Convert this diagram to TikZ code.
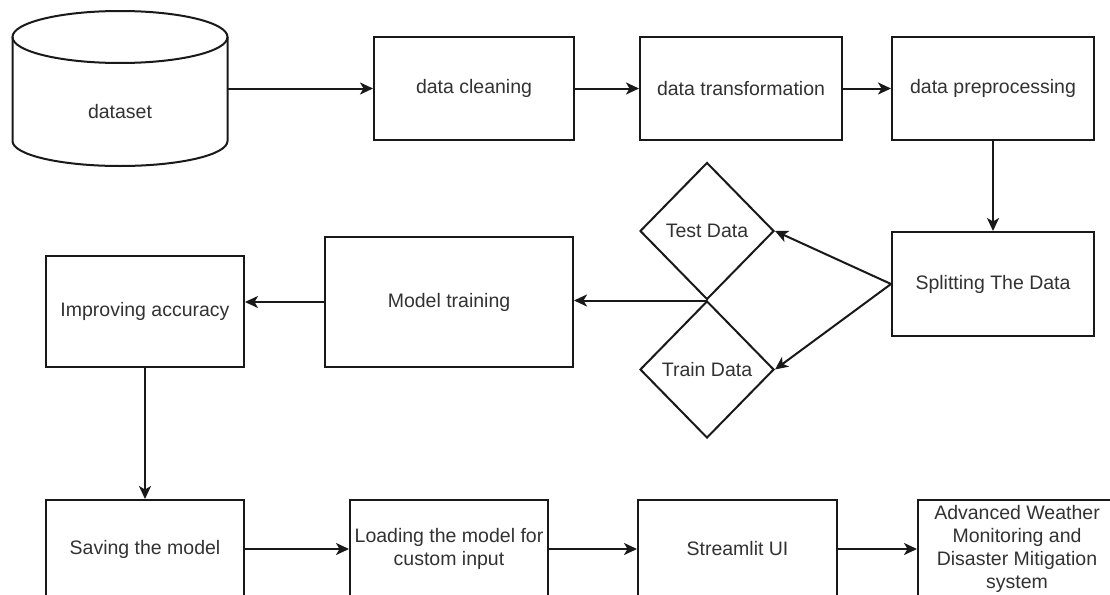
\documentclass[tikz,border=0pt]{standalone}
\usepackage{fontspec}
\setmainfont{Liberation Sans}
\usetikzlibrary{shapes.geometric,arrows.meta}
\definecolor{txtgray}{RGB}{50,50,50}
\definecolor{linegray}{RGB}{25,25,25}
\newcommand\dgfont{\fontsize{19.5}{23}\selectfont}
\tikzset{
  box/.style={draw=linegray, line width=2pt, rectangle, inner sep=0pt, align=center,
    font=\dgfont, text=txtgray},
  dia/.style={draw=linegray, line width=2pt, diamond, inner sep=0pt, align=center,
    font=\dgfont, text=txtgray, minimum width=134pt, minimum height=137pt},
  arr/.style={draw=linegray, line width=2pt, -{Stealth[length=13pt,width=12pt,inset=3.5pt]}},
  plain/.style={draw=linegray, line width=2pt}
}
\begin{document}
\begin{tikzpicture}[x=1pt,y=-1pt]
\useasboundingbox[fill=white] (0,0) rectangle (1110,594);
% dataset cylinder
\draw[plain] (12.5,37) -- (12.5,141) arc[start angle=180,end angle=360,x radius=107.5pt,y radius=25pt] -- (227.5,37);
\draw[plain] (120,37) ellipse[x radius=107.5pt,y radius=26pt];
\node[font=\dgfont, text=txtgray] (db) at (120,112) {dataset};
\coordinate (dbE) at (227.5,88.5);
% top row
\node[box, minimum width=200pt, minimum height=103pt] (clean) at (474,88.5) {data cleaning};
\node[box, minimum width=202pt, minimum height=103pt] (trans) at (741,88.5) {data transformation};
\node[box, minimum width=202pt, minimum height=103pt] (prep) at (993,88.5) {data preprocessing};
% middle row
\node[box, minimum width=202pt, minimum height=104pt] (split) at (993,284) {Splitting The Data};
\node[dia] (test) at (707,231) {Test Data};
\node[dia] (train) at (707,369.5) {Train Data};
\node[box, minimum width=248pt, minimum height=130pt] (model) at (449,302) {Model training};
\node[box, minimum width=198pt, minimum height=111pt] (improv) at (145,311.5) {Improving accuracy};
% bottom row
\node[box, minimum width=198pt, minimum height=98pt] (save) at (145,549) {Saving the model};
\node[box, minimum width=198pt, minimum height=98pt] (load) at (449,549) {Loading the model for\\custom input};
\node[box, minimum width=199pt, minimum height=98pt] (stream) at (737.5,549) {Streamlit UI};
\node[box, minimum width=198pt, minimum height=98pt] (adv) at (1017,549) {Advanced Weather\\Monitoring and\\Disaster Mitigation\\system};
% connectors
\draw[arr] (dbE) -- (clean.west);
\draw[arr] (clean.east) -- (trans.west);
\draw[arr] (trans.east) -- (prep.west);
\draw[arr] (prep.south) -- (split.north);
\draw[arr] (split.west) -- (test.east);
\draw[arr] (split.west) -- (train.east);
\draw[arr] (test.south) -- (test.south -| model.east);
\draw[arr] (model.west) -- (model.west -| improv.east);
\draw[arr] (improv.south) -- (save.north);
\draw[arr] (save.east) -- (load.west);
\draw[arr] (load.east) -- (stream.west);
\draw[arr] (stream.east) -- (adv.west);
\end{tikzpicture}
\end{document}
